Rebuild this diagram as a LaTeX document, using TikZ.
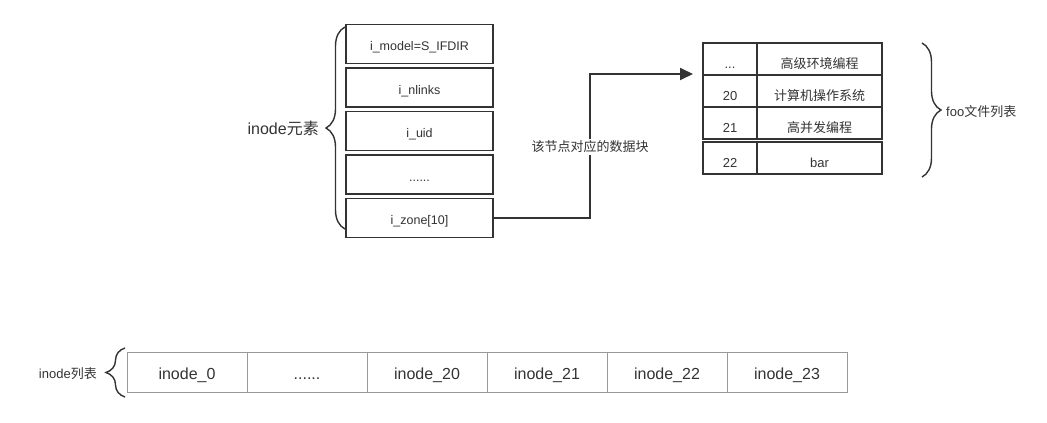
\documentclass[tikz,border=0pt]{standalone}
\usepackage{fontspec}
\setmainfont{Liberation Sans}
\newfontfamily\cjk{Noto Sans CJK SC}
\usetikzlibrary{arrows.meta,decorations.pathreplacing}
\definecolor{ink}{HTML}{333333}
\definecolor{soft}{HTML}{999999}
\begin{document}
\begin{tikzpicture}[x=1pt,y=-1pt,
  field/.style={draw=ink, line width=1.8pt, fill=white, minimum width=147pt, minimum height=39pt, inner sep=0pt, font=\fontsize{12.5}{14}\selectfont, text=ink, text height=13.75pt, text depth=0pt},
  cellL/.style={draw=ink, line width=1.8pt, minimum width=54pt, minimum height=32pt, inner sep=0pt, font=\fontsize{13}{15}\selectfont, text=ink, text height=18.3pt, text depth=0pt},
  cellR/.style={cellL, minimum width=125pt},
  slot/.style={draw=soft, line width=1pt, minimum width=120pt, minimum height=40pt, inner sep=0pt, font=\fontsize{16}{18}\selectfont, text=ink, text height=15.5pt, text depth=0pt},
  bracestyle/.style={draw=ink, line width=1.4pt, decorate, decoration={brace, amplitude=19pt}},
  conn/.style={draw=ink, line width=1.8pt, -{Triangle[length=13pt,width=12pt]}},
  lbl/.style={text=ink, inner sep=0pt}
]
\useasboundingbox (0,0) rectangle (1047,423);

% inode fields
\node[field] (s1) at (419.5,44) {i\_model=S\_IFDIR};
\node[field] (s2) at (419.5,87.5) {i\_nlinks};
\node[field] (s3) at (419.5,131) {i\_uid};
\node[field] (s4) at (419.5,174.5) {......};
\node[field] (s5) at (419.5,218) {i\_zone[10]};

\draw[bracestyle] (345,229) -- (345,27);
\node[lbl, anchor=east, font=\fontsize{16}{18}\selectfont] (elem) at (319,128) {inode{\cjk 元素}};

% file table
\node[cellL] (t1l) at (730,59) {...};
\node[cellR] (t1r) at (819.5,59) {\cjk 高级环境编程};
\node[cellL] (t2l) at (730,91) {20};
\node[cellR] (t2r) at (819.5,91) {\cjk 计算机操作系统};
\node[cellL] (t3l) at (730,123) {21};
\node[cellR] (t3r) at (819.5,123) {\cjk 高并发编程};
\node[cellL] (t4l) at (730,158) {22};
\node[cellR] (t4r) at (819.5,158) {bar};

\draw[bracestyle] (922,43) -- (922,177);
\node[lbl, anchor=west, font=\fontsize{13}{15}\selectfont] (foo) at (946,112) {foo{\cjk 文件列表}};

% connector
\coordinate (tip) at (693,74);
\draw[conn] (s5.east) -- ++(96,0) |- (tip);
\node[lbl, fill=white, inner sep=2pt, font=\fontsize{13}{15}\selectfont\cjk] (data) at (590,147) {该节点对应的数据块};

% inode list
\node[slot] (b0) at (187,372) {inode\_0};
\node[slot] (b1) at (307,372) {......};
\node[slot] (b2) at (427,372) {inode\_20};
\node[slot] (b3) at (547,372) {inode\_21};
\node[slot] (b4) at (667,372) {inode\_22};
\node[slot] (b5) at (787,372) {inode\_23};

\draw[bracestyle] (125,397) -- (125,348);
\node[lbl, anchor=east, font=\fontsize{13}{15}\selectfont] (list) at (97,374) {inode{\cjk 列表}};
\end{tikzpicture}
\end{document}
